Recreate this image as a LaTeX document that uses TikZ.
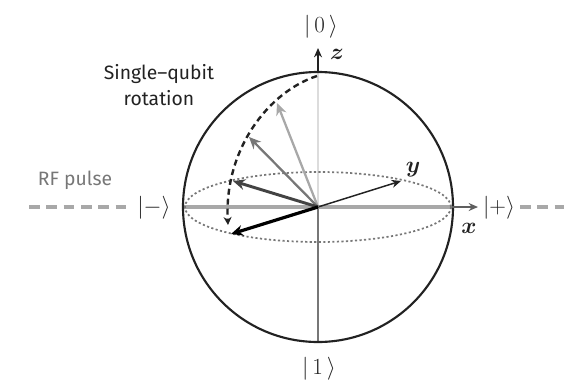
\documentclass[tikz,border=0pt]{standalone}
\usepackage{amsmath}
\usepackage{fontspec}
\setmainfont{Fira Sans}
\usetikzlibrary{arrows.meta,positioning,calc}
\definecolor{ink}{HTML}{222222}
\definecolor{midgray}{HTML}{777777}
\definecolor{palegray}{HTML}{A8A8A8}
\tikzset{
    ketlabel/.style={font=\fontsize{18}{20}\selectfont\rmfamily, text=ink, inner sep=0pt},
    axlabel/.style={font=\fontsize{16}{18}\selectfont, text=ink, inner sep=0pt},
    statevec/.style={-{Stealth[length=9pt,width=8pt]}, line width=1.7pt},
    axisvec/.style={-{Stealth[length=7pt,width=6pt]}, line width=1.1pt, draw=ink},
    pulseline/.style={palegray, line width=2.4pt, dash pattern=on 8pt off 5pt}
}

\begin{document}
\begin{tikzpicture}[x=0.75pt,y=-0.75pt]
\useasboundingbox (0,0) rectangle (564,386);
\coordinate (center) at (318,207);
\coordinate (top) at (318,73);
\coordinate (bottom) at (318,342);
\coordinate (left) at (183,207);
\coordinate (right) at (452,207);

% labels
\node[ketlabel] (ket0) at (321,27) {$|\,0\,\rangle$};
\node[ketlabel] (ket1) at (319,369) {$|\,1\,\rangle$};
\node[ketlabel] (ketminus) at (154,208) {$|{-}\rangle$};
\node[ketlabel] (ketplus) at (499,208) {$|{+}\rangle$};
\node[axlabel] (zlabel) at (337,54) {$\boldsymbol{z}$};
\node[axlabel] (ylabel) at (413,170) {$\boldsymbol{y}$};
\node[axlabel] (xlabel) at (469,228) {$\boldsymbol{x}$};
\node[font=\fontsize{14.5}{20}\selectfont, text=ink, align=center, inner sep=0pt] (rotlabel) at (159,85) {Single–qubit\\rotation};
\node[font=\fontsize{14.5}{17}\selectfont, text=midgray, inner sep=0pt] (rflabel) at (75,180) {RF pulse};

% axes
\draw[palegray!40, line width=2pt] (center) -- (top);
\draw[midgray, line width=1.4pt] (center) -- (bottom);
\draw[palegray, line width=2.6pt] (left) -- (right);

% sphere
\draw[ink, line width=1.6pt] (center) circle (135);
\draw[midgray, line width=1.3pt, dash pattern=on 1.6pt off 1.8pt] (center) ellipse (133 and 35);

% RF pulse
\coordinate (pulseA) at (29,207);
\coordinate (pulseB) at (564,207);
\coordinate (pulseC) at (131,207);
\coordinate (pulseD) at (520,207);
\draw[pulseline] (pulseA) -- (pulseC);
\draw[pulseline] (pulseD) -- (pulseB);

% axis arrows
\coordinate (ztip) at (318,48);
\coordinate (ytip) at (401,181);
\coordinate (xtip) at (478,207);
\draw[axisvec] (top) -- (ztip);
\draw[axisvec] (center) -- (ytip);
\draw[axisvec, draw=midgray!80!black, line width=1.4pt] (right) -- (xtip);

% state vectors
\coordinate (stateA) at (277,103);
\coordinate (stateB) at (249,137);
\coordinate (stateC) at (233,181);
\coordinate (stateD) at (231,234);
\draw[statevec, palegray] (center) -- (stateA);
\draw[statevec, midgray] (center) -- (stateB);
\draw[statevec, ink!85, line width=2.2pt] (center) -- (stateC);
\draw[statevec, black, line width=2.4pt] (center) -- (stateD);

% rotation path
\coordinate (rotstart) at (317,76);
\coordinate (rotend) at (228,225);
\draw[ink, line width=1.8pt, dash pattern=on 4.5pt off 3pt, -{Stealth[length=6pt,width=6pt]}] (rotstart) .. controls (268,92) and (224,150) .. (rotend);
\end{tikzpicture}
\end{document}
